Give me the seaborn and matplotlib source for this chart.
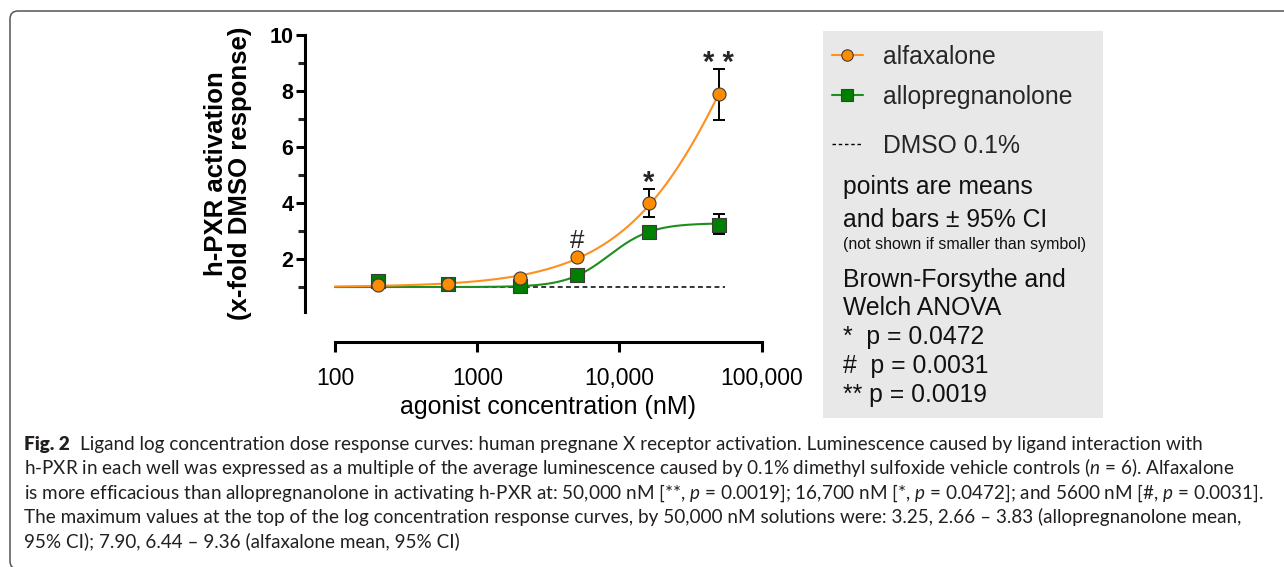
import numpy as np
import pandas as pd
import seaborn as sns
import matplotlib
matplotlib.use("Agg")
import matplotlib.pyplot as plt
from matplotlib.patches import FancyBboxPatch, Rectangle
from matplotlib.lines import Line2D
from matplotlib.transforms import IdentityTransform

# ---------------- data ----------------
conc_nM = [200, 625, 2000, 5000, 16000, 50000]
alfaxalone_mean = [1.07, 1.10, 1.31, 2.06, 3.99, 7.90]
alfaxalone_ci_low = [np.nan, np.nan, np.nan, np.nan, 3.49, 6.96]
alfaxalone_ci_high = [np.nan, np.nan, np.nan, np.nan, 4.49, 8.77]
allopregnanolone_mean = [1.21, 1.11, 1.05, 1.43, 2.98, 3.23]
allopregnanolone_ci_low = [np.nan, np.nan, np.nan, np.nan, np.nan, 2.88]
allopregnanolone_ci_high = [np.nan, np.nan, np.nan, np.nan, np.nan, 3.60]
sig_labels = ["", "", "", "#", "*", "* *"]
dmso_level = 1.0
dmso_range_nM = [100, 55000]
curve_range_nM = [100, 50000]
# four-parameter logistic fits (bottom, top, EC50 nM, Hill slope) estimated from the curves
alfaxalone_fit = [1.0, 20.7, 92700, 1.0]
allopregnanolone_fit = [1.0, 3.28, 8500, 2.9]
x_ticks = [100, 1000, 10000, 100000]
x_tick_labels = ["100", "1000", "10,000", "100,000"]
y_ticks = [2, 4, 6, 8, 10]
y_minor_ticks = [1, 3, 5, 7, 9]

caption_head = "Fig. 2"
caption_lines = [
    "Ligand log concentration dose response curves: human pregnane X receptor activation. Luminescence caused by ligand interaction with",
    r"h-PXR in each well was expressed as a multiple of the average luminescence caused by 0.1% dimethyl sulfoxide vehicle controls ($\mathit{n}$ = 6). Alfaxalone",
    r"is more efficacious than allopregnanolone in activating h-PXR at: 50,000 nM [**, $\mathit{p}$ = 0.0019]; 16,700 nM [*, $\mathit{p}$ = 0.0472]; and 5600 nM [#, $\mathit{p}$ = 0.0031].",
    r"The maximum values at the top of the log concentration response curves, by 50,000 nM solutions were: 3.25, 2.66 – 3.83 (allopregnanolone mean,",
    r"95% CI); 7.90, 6.44 – 9.36 (alfaxalone mean, 95% CI)",
]

# ---------------- style ----------------
sns.set_theme(style="ticks")
plt.rcParams["font.family"] = ["Liberation Sans", "DejaVu Sans"]
plt.rcParams["mathtext.fontset"] = "custom"
plt.rcParams["mathtext.rm"] = "Lato"
plt.rcParams["mathtext.it"] = "Lato:italic"
plt.rcParams["mathtext.bf"] = "Lato:bold"

ORANGE_FILL = "#FF8C00"
ORANGE_LINE = "#FF8F1F"
GREEN_FILL = "#007F00"
GREEN_LINE = "#1E8E1E"
EDGE = "#3C3C3C"

W, H = 1284, 567
def fx(px):
    return px / W
def fy(py):
    return 1 - py / H

fig = plt.figure(figsize=(W / 100, H / 100), dpi=100)
ax = fig.add_axes([fx(305), fy(311.7), fx(761.7) - fx(305), (311.7 - 35) / H])

def logistic(x, p):
    b, t, ec, h = p
    return b + (t - b) / (1 + (ec / x) ** h)

xs = np.logspace(np.log10(curve_range_nM[0]), np.log10(curve_range_nM[1]), 400)
curve_df = pd.concat([
    pd.DataFrame({"conc": xs, "resp": logistic(xs, allopregnanolone_fit), "compound": "allopregnanolone"}),
    pd.DataFrame({"conc": xs, "resp": logistic(xs, alfaxalone_fit), "compound": "alfaxalone"}),
])
pts_df = pd.concat([
    pd.DataFrame({"conc": conc_nM, "resp": allopregnanolone_mean, "compound": "allopregnanolone"}),
    pd.DataFrame({"conc": conc_nM, "resp": alfaxalone_mean, "compound": "alfaxalone"}),
])

# DMSO reference line
ax.hlines(dmso_level, dmso_range_nM[0], dmso_range_nM[1], colors="black",
          linestyles=(0, (3.2, 2.2)), linewidth=1.1, zorder=1)

sns.lineplot(data=curve_df, x="conc", y="resp", hue="compound", estimator=None,
             palette={"alfaxalone": ORANGE_LINE, "allopregnanolone": GREEN_LINE},
             linewidth=1.5, legend=False, ax=ax, zorder=2)

# CI error bars
for mean, lo, hi in [(allopregnanolone_mean, allopregnanolone_ci_low, allopregnanolone_ci_high),
                     (alfaxalone_mean, alfaxalone_ci_low, alfaxalone_ci_high)]:
    m = np.array(mean); l = np.array(lo); h = np.array(hi); c = np.array(conc_nM, float)
    ok = ~np.isnan(l)
    ax.errorbar(c[ok], m[ok], yerr=[m[ok] - l[ok], h[ok] - m[ok]], fmt="none",
                ecolor="black", elinewidth=1.4, capsize=4, capthick=1.4, zorder=3)

# markers: allopregnanolone first so alfaxalone sits on top
for comp, mk, col in [("allopregnanolone", "s", GREEN_FILL), ("alfaxalone", "o", ORANGE_FILL)]:
    sub = pts_df[pts_df["compound"] == comp]
    sns.scatterplot(data=sub, x="conc", y="resp", marker=mk, color=col, s=88,
                    edgecolor=EDGE, linewidth=0.8, legend=False, ax=ax, zorder=4)

# significance labels
for x, m, hi, lab in zip(conc_nM, alfaxalone_mean, alfaxalone_ci_high, sig_labels):
    if not lab:
        continue
    if np.isnan(hi):
        ax.annotate(lab, (x, m), xytext=(0, 7), textcoords="offset points",
                    ha="center", va="baseline", fontsize=18.5, annotation_clip=False)
    else:
        ax.annotate(lab, (x, hi), xytext=(0, -1), textcoords="offset points",
                    ha="center", va="baseline", fontsize=21, fontweight="bold",
                    annotation_clip=False)

# axes formatting
ax.set_xscale("log")
ax.set_xlim(61.5, 100000)
ax.set_ylim(0.12, 10)
ax.set_xticks(x_ticks)
ax.set_xticklabels(x_tick_labels)
ax.xaxis.set_minor_locator(matplotlib.ticker.NullLocator())
ax.set_yticks(y_ticks)
ax.set_yticks(y_minor_ticks, minor=True)
ax.set_yticklabels([str(v) for v in y_ticks], fontweight="bold", fontsize=15.5)
for s in ["top", "right"]:
    ax.spines[s].set_visible(False)
for s in ["left", "bottom"]:
    ax.spines[s].set_linewidth(2.2)
    ax.spines[s].set_color("black")
ax.spines["bottom"].set_position(("outward", 21.6))
ax.spines["bottom"].set_bounds(100, 100000)
ax.tick_params(axis="y", which="major", length=6.5, width=2.2, pad=2, colors="black")
ax.tick_params(axis="y", which="minor", length=5, width=2.2)
ax.tick_params(axis="x", which="major", length=7.5, width=2.2, pad=11, labelsize=16.5, colors="black")
ax.set_xlabel("agonist concentration (nM)", fontsize=18, color="black")
ax.xaxis.set_label_coords(0.533, -0.30)
ax.set_ylabel("h-PXR activation\n(x-fold DMSO response)", fontsize=18.5,
              fontweight="bold", linespacing=0.98, color="black")
ax.yaxis.set_label_coords(-0.116, 0.5)
ax.set_facecolor("none")

# ---------------- legend panel ----------------
fig.add_artist(Rectangle((fx(822.7), fy(418)), fx(1103) - fx(822.7), (418 - 31) / H,
                         transform=fig.transFigure, facecolor="#E8E8E8", edgecolor="none", zorder=0))
h1 = Line2D([], [], color=ORANGE_LINE, lw=1.5, marker="o", markersize=8.2,
            markerfacecolor=ORANGE_FILL, markeredgecolor=EDGE, markeredgewidth=0.8)
h2 = Line2D([], [], color=GREEN_LINE, lw=1.5, marker="s", markersize=8.2,
            markerfacecolor=GREEN_FILL, markeredgecolor=EDGE, markeredgewidth=0.8)
h3 = Line2D([], [], color="black", lw=1.0, linestyle=(0, (2.5, 2)))
leg_kw = dict(loc="center left", frameon=False, borderpad=0, borderaxespad=0,
              handlelength=1.26, handletextpad=0.8, fontsize=17.8)
fig.legend([h1, h2], ["alfaxalone", "allopregnanolone"],
           bbox_to_anchor=(fx(831.7), fy(77)), labelspacing=0.64, **leg_kw)
fig.legend([h3], ["DMSO 0.1%"], bbox_to_anchor=(fx(831.7), fy(146)), **leg_kw)

panel_text = [
    ("points are means", 186.7, 17.8),
    ("and bars ± 95% CI", 220, 17.8),
    ("(not shown if smaller than symbol)", 245, 11.5),
    ("Brown-Forsythe and", 280, 17.8),
    ("Welch ANOVA", 308, 17.8),
    ("*  p = 0.0472", 337, 17.8),
    ("#  p = 0.0031", 366.5, 17.8),
    ("** p = 0.0019", 395, 17.8),
]
for txt, py, fs in panel_text:
    fig.text(fx(842.7), fy(py), txt, fontsize=fs, va="center", ha="left", color="#111111")

# ---------------- caption ----------------
cap_left = 24
caption_baselines = [450.3, 474.4, 498.5, 522.6, 546.7]
base_fs = 13
head = fig.text(fx(cap_left), fy(caption_baselines[0]), caption_head, fontsize=base_fs,
                family=["Lato", "DejaVu Sans"], fontweight="heavy", va="baseline", ha="left",
                color="#231F20")
cap_texts = []
for i, (line, py) in enumerate(zip(caption_lines, caption_baselines)):
    t = fig.text(fx(cap_left), fy(py), line, fontsize=base_fs, family=["Lato", "DejaVu Sans"],
                 va="baseline", ha="left", color="#231F20")
    cap_texts.append(t)
fig.canvas.draw()
r = fig.canvas.get_renderer()
w3 = cap_texts[2].get_window_extent(r).width
scale = (1262 - cap_left) / w3
fs = base_fs * scale
head.set_fontsize(fs)
for t in cap_texts:
    t.set_fontsize(fs)
fig.canvas.draw()
hw = head.get_window_extent(r).width
cap_texts[0].set_x(fx(cap_left + hw + 0.55 * fs * 100 / 72))

# border of the figure panel (cropped at right and bottom)
fig.add_artist(FancyBboxPatch((10, -2), 1500, 558, boxstyle="round,pad=0,rounding_size=8",
                              transform=IdentityTransform(), fill=False,
                              edgecolor="#555555", linewidth=1.1))

fig.savefig("out.png", dpi=100)
